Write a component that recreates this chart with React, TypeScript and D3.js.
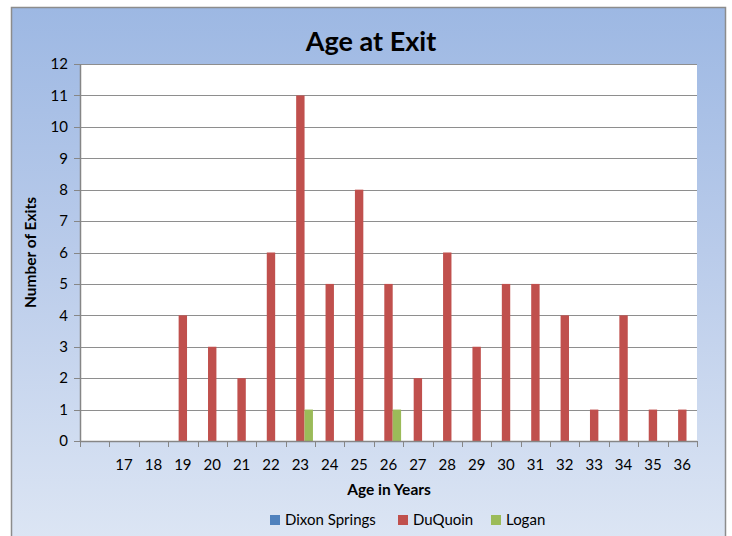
import * as d3 from "d3";
import { useEffect, useRef } from "react";

const categories = ["", "17", "18", "19", "20", "21", "22", "23", "24", "25", "26", "27", "28", "29", "30", "31", "32", "33", "34", "35", "36"];
const seriesNames = ["Dixon Springs", "DuQuoin", "Logan"];
const dixonSprings = [0, 0, 0, 0, 0, 0, 0, 0, 0, 0, 0, 0, 0, 0, 0, 0, 0, 0, 0, 0, 0];
const duQuoin = [0, 0, 0, 4, 3, 2, 6, 11, 5, 8, 5, 2, 6, 3, 5, 5, 4, 1, 4, 1, 1];
const logan = [0, 0, 0, 0, 0, 0, 0, 1, 0, 0, 1, 0, 0, 0, 0, 0, 0, 0, 0, 0, 0];
const seriesColors = ["#4F81BD", "#C0504D", "#9BBB59"];
const yTicks = d3.range(0, 13);

export default function App() {
  const svgRef = useRef<SVGSVGElement>(null);
  const width = 732;
  const height = 536;

  useEffect(() => {
    const svg = d3.select(svgRef.current);
    svg.selectAll("*").remove();
    const font = "Lato, 'Open Sans', sans-serif";

    // background
    const defs = svg.append("defs");
    const grad = defs.append("linearGradient").attr("id", "bg").attr("x1", 0).attr("y1", 0).attr("x2", 0).attr("y2", 1);
    grad.append("stop").attr("offset", "0%").attr("stop-color", "#9DB8E3");
    grad.append("stop").attr("offset", "45%").attr("stop-color", "#B9CBEA");
    grad.append("stop").attr("offset", "100%").attr("stop-color", "#DDE6F4");

    svg.append("rect").attr("width", width).attr("height", height).attr("fill", "#fff");
    svg.append("rect")
      .attr("x", 11.5).attr("y", 7.5).attr("width", 714).attr("height", 540)
      .attr("fill", "url(#bg)").attr("stroke", "#8C8C8C").attr("stroke-width", 1.5);

    const plot = { left: 80, top: 64, right: 697, bottom: 441 };

    const x = d3.scaleBand<string>().domain(categories.map((c, i) => i + ":" + c)).range([plot.left, plot.right]).paddingInner(0).paddingOuter(0);
    const y = d3.scaleLinear().domain([0, 12]).range([plot.bottom, plot.top]);
    const xs = d3.scaleBand<string>().domain(seriesNames).range([0, x.bandwidth()]).paddingInner(0).paddingOuter(0.25);

    svg.append("rect")
      .attr("x", plot.left).attr("y", plot.top)
      .attr("width", plot.right - plot.left).attr("height", plot.bottom - plot.top)
      .attr("fill", "#fff");

    // gridlines
    svg.append("g").selectAll("line").data(yTicks.filter(t => t > 0)).enter().append("line")
      .attr("x1", plot.left).attr("x2", plot.right)
      .attr("y1", d => Math.round(y(d)) + 0.5).attr("y2", d => Math.round(y(d)) + 0.5)
      .attr("stroke", "#8E8E8E").attr("stroke-width", 1);

    // bars
    const allSeries = [dixonSprings, duQuoin, logan];
    allSeries.forEach((vals, si) => {
      svg.append("g").selectAll("rect").data(vals).enter().append("rect")
        .attr("x", (d, i) => x(i + ":" + categories[i])! + xs(seriesNames[si])!)
        .attr("y", d => y(d))
        .attr("width", xs.bandwidth())
        .attr("height", d => y(0) - y(d))
        .attr("fill", seriesColors[si]);
    });

    // y axis
    const axisColor = "#868686";
    svg.append("line").attr("x1", plot.left + 0.5).attr("x2", plot.left + 0.5)
      .attr("y1", plot.top).attr("y2", plot.bottom).attr("stroke", axisColor).attr("stroke-width", 1.5);
    svg.append("g").selectAll("line").data(yTicks).enter().append("line")
      .attr("x1", plot.left - 6).attr("x2", plot.left)
      .attr("y1", d => Math.round(y(d)) + 0.5).attr("y2", d => Math.round(y(d)) + 0.5)
      .attr("stroke", axisColor).attr("stroke-width", 1);
    svg.append("g").selectAll("text").data(yTicks).enter().append("text")
      .attr("x", plot.left - 12).attr("y", d => y(d))
      .attr("dy", "0.35em").attr("text-anchor", "end")
      .attr("font-family", font).attr("font-size", 15).attr("fill", "#000")
      .text(d => d);

    // x axis
    svg.append("line").attr("x1", plot.left).attr("x2", plot.right)
      .attr("y1", plot.bottom + 0.5).attr("y2", plot.bottom + 0.5)
      .attr("stroke", axisColor).attr("stroke-width", 1.5);
    const boundaries = d3.range(categories.length + 1).map(i => plot.left + i * x.step());
    svg.append("g").selectAll("line").data(boundaries).enter().append("line")
      .attr("x1", d => Math.round(d) + 0.5).attr("x2", d => Math.round(d) + 0.5)
      .attr("y1", plot.bottom).attr("y2", plot.bottom + 6)
      .attr("stroke", axisColor).attr("stroke-width", 1);
    svg.append("g").selectAll("text").data(categories).enter().append("text")
      .attr("x", (d, i) => x(i + ":" + d)! + x.bandwidth() / 2)
      .attr("y", 470)
      .attr("text-anchor", "middle")
      .attr("font-family", font).attr("font-size", 15).attr("fill", "#000")
      .text(d => d);

    // titles
    svg.append("text").attr("x", 371).attr("y", 51).attr("text-anchor", "middle")
      .attr("font-family", font).attr("font-weight", "bold").attr("font-size", 27).attr("fill", "#000")
      .text("Age at Exit");
    svg.append("text").attr("x", 389).attr("y", 495).attr("text-anchor", "middle")
      .attr("font-family", font).attr("font-weight", "bold").attr("font-size", 15.5).attr("fill", "#000")
      .text("Age in Years");
    svg.append("text")
      .attr("transform", `translate(36, ${(plot.top + plot.bottom) / 2}) rotate(-90)`)
      .attr("text-anchor", "middle")
      .attr("font-family", font).attr("font-weight", "bold").attr("font-size", 15.5).attr("fill", "#000")
      .text("Number of Exits");

    // legend
    const legendX = [270, 398, 491];
    const lg = svg.append("g").selectAll("g").data(seriesNames).enter().append("g")
      .attr("transform", (d, i) => `translate(${legendX[i]}, 520)`);
    lg.append("rect").attr("x", 0).attr("y", -5).attr("width", 10).attr("height", 10)
      .attr("fill", (d, i) => seriesColors[i]);
    lg.append("text").attr("x", 15).attr("y", 0).attr("dy", "0.35em")
      .attr("font-family", font).attr("font-size", 15).attr("fill", "#000")
      .text(d => d);
  }, []);

  return (
    <svg ref={svgRef} width={width} height={height}
      style={{ position: "absolute", left: 0, top: 0, display: "block" }} />
  );
}
